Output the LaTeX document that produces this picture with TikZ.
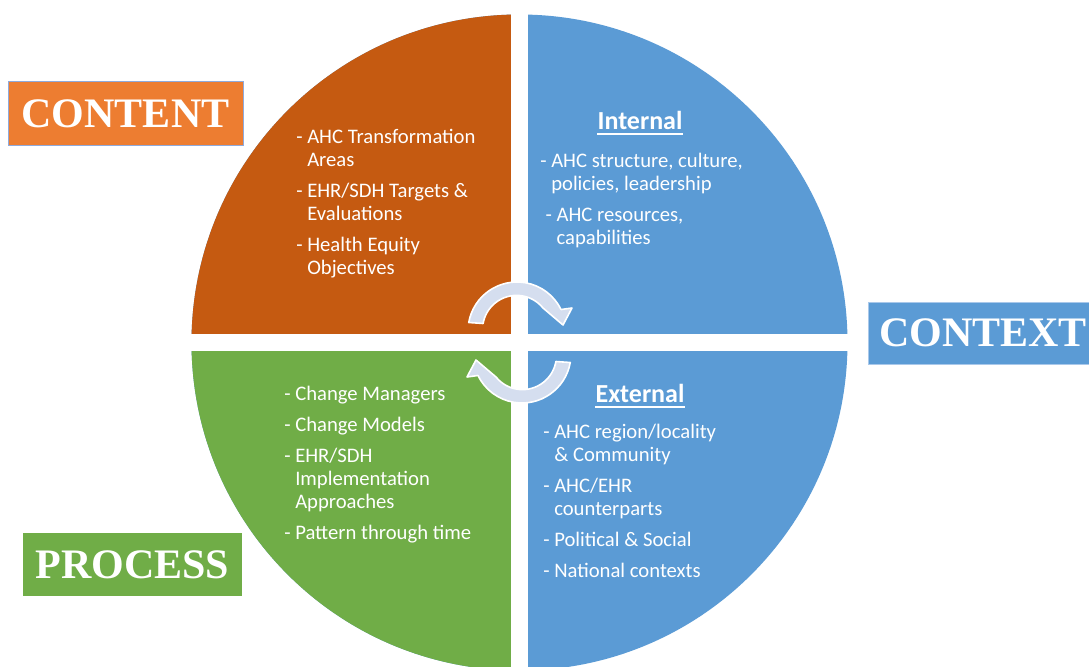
\documentclass[tikz,border=0pt]{standalone}
\usepackage{fontspec}
\usepackage{tikz}
\usetikzlibrary{positioning}
\newfontfamily\bodyfont{Carlito}
\newfontfamily\labelfont{Liberation Serif}
\definecolor{cntorange}{HTML}{C55A11}
\definecolor{cntlabel}{HTML}{ED7D31}
\definecolor{cntframe}{HTML}{8FAADC}
\definecolor{ctxblue}{HTML}{5B9BD5}
\definecolor{ctxframe}{HTML}{A9C8EA}
\definecolor{prcgreen}{HTML}{70AD47}
\definecolor{cyclefill}{HTML}{D5DEEF}
\newcommand{\ctd}{\hphantom{- }}

\begin{document}
\begin{tikzpicture}[x=0.75pt, y=-0.75pt,
        itemlist/.style={anchor=north west, inner sep=0pt, align=left, text=white,
                         font=\bodyfont\fontsize{15.5}{17.25}\selectfont},
        heading/.style={anchor=base, inner sep=0pt, text=white,
                        font=\bodyfont\bfseries\fontsize{19.5}{22}\selectfont},
        catbox/.style={inner sep=0pt, line width=0.75pt, text=white,
                       font=\labelfont\bfseries\fontsize{31.5}{36}\selectfont},
        cyclearrow/.style={fill=cyclefill, draw=white, line width=1.2pt, line join=round}]
    \useasboundingbox (0,0) rectangle (1089,667);

    \fill[ctxblue] (519.5,342.5) circle[radius=328];
    \begin{scope}
        \clip (0,0) rectangle (519.5,342.5);
        \fill[cntorange] (519.5,342.5) circle[radius=328];
    \end{scope}
    \begin{scope}
        \clip (0,342.5) rectangle (519.5,700);
        \fill[prcgreen] (519.5,342.5) circle[radius=328];
    \end{scope}
    \fill[white] (511,0) rectangle (528,700);
    \fill[white] (150,334) rectangle (860,351);

    \foreach \a in {0,180}
        \filldraw[cyclearrow, rotate around={\a:(519.5,342.5)}]
            (517,331) ++(-170:49) arc[start angle=-170, end angle=-26, radius=49]
            -- (572,308) -- (563,325) -- (543,308)
            arc[start angle=-39, end angle=-170, radius=34] -- cycle;

    \node[catbox, fill=cntlabel, draw=cntframe, minimum width=176.25pt, minimum height=47.25pt]
        (content) at (125.5,113.5) {CONTENT};
    \node[catbox, fill=ctxblue, draw=ctxframe, minimum width=172.5pt, minimum height=46.5pt]
        (context) at (983,333) {CONTEXT};
    \node[catbox, fill=prcgreen, minimum width=164.25pt, minimum height=47.25pt]
        (process) at (132.5,564.5) {PROCESS};

    \node[heading] (internal) at (640,129) {Internal};
    \node[heading] (external) at (640,402) {External};
    \draw[white, line width=1.4pt] ([yshift=-3.5pt]internal.south west) -- ([yshift=-3.5pt]internal.south east);
    \draw[white, line width=1.4pt] ([yshift=-3.5pt]external.south west) -- ([yshift=-3.5pt]external.south east);

    \node[itemlist] (cnt) at (296,129) {- AHC Transformation\\ \ctd Areas\\[6pt]
        - EHR/SDH Targets \&\\ \ctd Evaluations\\[6pt]
        - Health Equity\\ \ctd Objectives};
    \node[itemlist] (int) at (540,153) {- AHC structure, culture,\\ \ctd policies, leadership\\[6pt]
        \hspace*{4pt}- AHC resources,\\ \hspace*{4pt}\ctd capabilities};
    \node[itemlist] (ext) at (543,424) {- AHC region/locality\\ \ctd\& Community\\[6pt]
        - AHC/EHR\\ \ctd counterparts\\[6pt]
        - Political \& Social\\[6pt]
        - National contexts};
    \node[itemlist] (prc) at (284,386) {- Change Managers\\[6pt]
        - Change Models\\[6pt]
        - EHR/SDH\\ \ctd Implementation\\ \ctd Approaches\\[6pt]
        - Pattern through time};
\end{tikzpicture}
\end{document}
